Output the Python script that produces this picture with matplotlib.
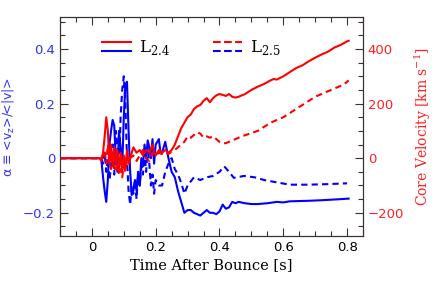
import numpy as np
import matplotlib
matplotlib.use("Agg")
import matplotlib.pyplot as plt
from matplotlib.legend_handler import HandlerBase
from matplotlib.lines import Line2D
from matplotlib.ticker import MultipleLocator

# alpha, L2.4 (solid blue)
t_a24 = [-0.1, 0.025, 0.03, 0.035, 0.04, 0.045, 0.05, 0.055, 0.06, 0.065, 0.07, 0.075, 0.08,
         0.085, 0.09, 0.095, 0.10, 0.105, 0.11, 0.115, 0.12, 0.125, 0.13, 0.135, 0.14, 0.145,
         0.15, 0.155, 0.16, 0.165, 0.17, 0.175, 0.18, 0.185, 0.19, 0.195, 0.20, 0.21, 0.215,
         0.22, 0.23, 0.24, 0.25, 0.26, 0.27, 0.28, 0.29, 0.30, 0.31, 0.32, 0.33, 0.34, 0.35,
         0.36, 0.37, 0.38, 0.39, 0.40, 0.41, 0.42, 0.43, 0.44, 0.45, 0.46, 0.48, 0.50, 0.52,
         0.55, 0.58, 0.60, 0.62, 0.65, 0.68, 0.70, 0.72, 0.75, 0.78, 0.805]
a24 = [0, 0, -0.01, -0.07, -0.12, -0.16, -0.08, 0.05, 0.10, 0.14, 0.12, 0.0, -0.05,
       0.10, 0.04, -0.04, 0.15, 0.27, 0.28, 0.10, -0.05, -0.135, -0.12, -0.08, -0.12, -0.05,
       -0.10, 0.0, -0.03, 0.05, 0.0, 0.065, 0.04, 0.0, 0.07, -0.02, 0.05, 0.07, 0.02,
       0.02, 0.06, 0.0, -0.05, -0.07, -0.12, -0.16, -0.20, -0.19, -0.19, -0.20, -0.205, -0.21, -0.20,
       -0.19, -0.20, -0.20, -0.205, -0.195, -0.17, -0.185, -0.18, -0.16, -0.165, -0.16, -0.165, -0.168, -0.168,
       -0.165, -0.16, -0.162, -0.158, -0.157, -0.156, -0.155, -0.154, -0.152, -0.15, -0.148]

# alpha, L2.5 (dashed blue)
t_a25 = [-0.1, 0.03, 0.035, 0.04, 0.045, 0.05, 0.055, 0.06, 0.065, 0.07, 0.075, 0.08, 0.085,
         0.09, 0.095, 0.10, 0.105, 0.11, 0.115, 0.12, 0.125, 0.13, 0.135, 0.14, 0.145, 0.15,
         0.155, 0.16, 0.165, 0.17, 0.175, 0.18, 0.185, 0.19, 0.195, 0.20, 0.21, 0.22, 0.23,
         0.24, 0.25, 0.26, 0.27, 0.28, 0.29, 0.30, 0.32, 0.34, 0.36, 0.38, 0.40, 0.415, 0.43,
         0.445, 0.477, 0.51, 0.54, 0.587, 0.62, 0.68, 0.74, 0.80]
a25 = [0, 0, -0.02, 0.02, -0.05, 0.0, -0.08, -0.03, 0.05, -0.06, 0.10, 0.05, -0.05,
       0.15, 0.25, 0.30, 0.20, 0.0, -0.12, -0.17, -0.10, -0.13, -0.08, -0.15, -0.05, -0.10,
       -0.03, -0.06, 0.02, -0.05, 0.04, -0.02, -0.10, -0.06, -0.13, -0.08, -0.10, -0.10, -0.05,
       -0.02, 0.0, -0.04, -0.06, -0.09, -0.13, -0.10, -0.07, -0.08, -0.07, -0.065, -0.05, -0.03, -0.05,
       -0.072, -0.065, -0.07, -0.08, -0.09, -0.097, -0.097, -0.095, -0.092]

# core velocity [km/s], L2.4 (solid red)
t_v24 = [-0.1, 0.025, 0.03, 0.035, 0.04, 0.045, 0.05, 0.055, 0.06, 0.065, 0.07, 0.075, 0.08,
         0.085, 0.09, 0.095, 0.10, 0.105, 0.11, 0.115, 0.12, 0.125, 0.13, 0.14, 0.15, 0.16,
         0.17, 0.18, 0.19, 0.195, 0.20, 0.21, 0.22, 0.23, 0.24, 0.25, 0.26, 0.27, 0.28, 0.29,
         0.30, 0.31, 0.32, 0.33, 0.34, 0.35, 0.36, 0.37, 0.38, 0.39, 0.40, 0.41, 0.42, 0.43,
         0.44, 0.45, 0.46, 0.48, 0.50, 0.52, 0.54, 0.56, 0.57, 0.58, 0.60, 0.62, 0.64, 0.66,
         0.68, 0.70, 0.72, 0.74, 0.76, 0.78, 0.80, 0.805]
v24 = [0, 0, -10, 20, 80, 150, 100, -20, 50, -30, 40, -20, 30,
       -40, 20, -50, 10, -40, 30, -20, 0, 20, 40, 20, 30, 10,
       30, 20, 50, 20, 10, 30, 20, 30, 20, 30, 50, 80, 110, 130,
       150, 160, 180, 190, 195, 210, 220, 205, 220, 230, 235, 232, 228, 235,
       225, 222, 225, 235, 250, 262, 272, 285, 290, 288, 300, 315, 330, 340,
       355, 368, 380, 390, 405, 415, 428, 430]

# core velocity [km/s], L2.5 (dashed red)
t_v25 = [-0.1, 0.03, 0.04, 0.045, 0.05, 0.055, 0.06, 0.065, 0.07, 0.075, 0.08, 0.085, 0.09,
         0.095, 0.10, 0.105, 0.11, 0.12, 0.13, 0.14, 0.15, 0.16, 0.17, 0.18, 0.19, 0.20,
         0.21, 0.22, 0.23, 0.24, 0.25, 0.26, 0.27, 0.28, 0.29, 0.30, 0.31, 0.32, 0.33, 0.34,
         0.35, 0.36, 0.37, 0.38, 0.39, 0.40, 0.41, 0.42, 0.43, 0.45, 0.47, 0.50, 0.52, 0.54,
         0.56, 0.58, 0.60, 0.62, 0.64, 0.66, 0.68, 0.70, 0.72, 0.74, 0.76, 0.78, 0.79, 0.80, 0.805]
v25 = [0, 0, 30, -20, 50, 0, -40, 20, -30, -50, -20, -60, -40,
       -70, -30, -50, -10, 0, 10, -10, 10, 30, 0, -10, 20, 10,
       20, 15, 20, 15, 25, 30, 40, 50, 60, 80, 75, 85, 95, 90,
       75, 80, 75, 80, 70, 60, 55, 55, 60, 70, 80, 92, 100, 115,
       130, 140, 150, 165, 180, 195, 210, 225, 235, 245, 255, 265, 270, 280, 285]

blue = "#0000ff"
red = "#ff0000"
lab_blue = "#3030ff"
lab_red = "#ff2020"
serif = "DejaVu Serif"


class HandlerTwoLines(HandlerBase):
    def create_artists(self, legend, orig_handle, xdescent, ydescent, width, height,
                       fontsize, trans):
        artists = []
        for i, h in enumerate(orig_handle):
            y = height / 2 + (0.28 - 0.56 * i) * fontsize
            ln = Line2D([-xdescent, width - xdescent], [y, y], color=h.get_color(),
                        linestyle=h.get_linestyle(), linewidth=h.get_linewidth())
            ln.set_transform(trans)
            artists.append(ln)
        return artists


fig = plt.figure(figsize=(4.36, 2.84), dpi=100)
ax = fig.add_axes([0.1376, 0.169, 0.695, 0.771])
ax2 = ax.twinx()

lb24, = ax.plot(t_a24, a24, color=blue, lw=1.5)
lb25, = ax.plot(t_a25, a25, color=blue, lw=1.5, ls=(0, (3, 2)))
lr24, = ax2.plot(t_v24, v24, color=red, lw=1.5)
lr25, = ax2.plot(t_v25, v25, color=red, lw=1.5, ls=(0, (3, 2)))

ylo, yhi = -0.285, 0.517
ax.set_xlim(-0.1, 0.85)
ax.set_ylim(ylo, yhi)
ax2.set_ylim(ylo * 1000, yhi * 1000)

ax.xaxis.set_major_locator(MultipleLocator(0.2))
ax.xaxis.set_minor_locator(MultipleLocator(0.05))
ax.yaxis.set_major_locator(MultipleLocator(0.2))
ax.yaxis.set_minor_locator(MultipleLocator(0.05))
ax2.yaxis.set_major_locator(MultipleLocator(200))
ax2.yaxis.set_minor_locator(MultipleLocator(50))

ax.xaxis.set_major_formatter(lambda v, p: "0" if abs(v) < 1e-9 else f"{v:g}")
ax.yaxis.set_major_formatter(lambda v, p: "0" if abs(v) < 1e-9 else f"{v:g}".replace("-", "\u2212"))

tick_col = "#3a3030"
ax.tick_params(axis="x", which="both", direction="in", top=True, colors=tick_col,
               labelcolor="black", labelsize=9.5)
ax.tick_params(axis="y", which="both", direction="in", right=False, colors=tick_col,
               labelcolor=lab_blue, labelsize=9.5)
ax2.tick_params(axis="y", which="both", direction="in", colors=tick_col,
                labelcolor=lab_red, labelsize=9.5)
for a in (ax, ax2):
    a.tick_params(which="major", length=6, width=0.8)
    a.tick_params(which="minor", length=3.5, width=0.8)
    for s in a.spines.values():
        s.set_color(tick_col)

ax.set_xlabel("Time After Bounce [s]", fontsize=10.5, family=serif, labelpad=3)
ax.set_ylabel("\u03b1 \u2261 <v$_\\mathregular{z}$>/<|v|>", color=lab_blue, fontsize=9, labelpad=5)
ax2.set_ylabel("Core Velocity [km s$^\\mathregular{-1}$]", color=lab_red, fontsize=10,
               family=serif, labelpad=6)

ax.legend([(lr24, lb24), (lr25, lb25)], ["L$_\\mathregular{2.4}$", "L$_\\mathregular{2.5}$"],
          handler_map={tuple: HandlerTwoLines()}, ncol=2, frameon=False,
          loc="center left", bbox_to_anchor=(0.09, 0.86), prop={"family": serif, "size": 12},
          handlelength=1.7, handletextpad=0.5, columnspacing=2.6)

fig.savefig("out.png", dpi=100)
